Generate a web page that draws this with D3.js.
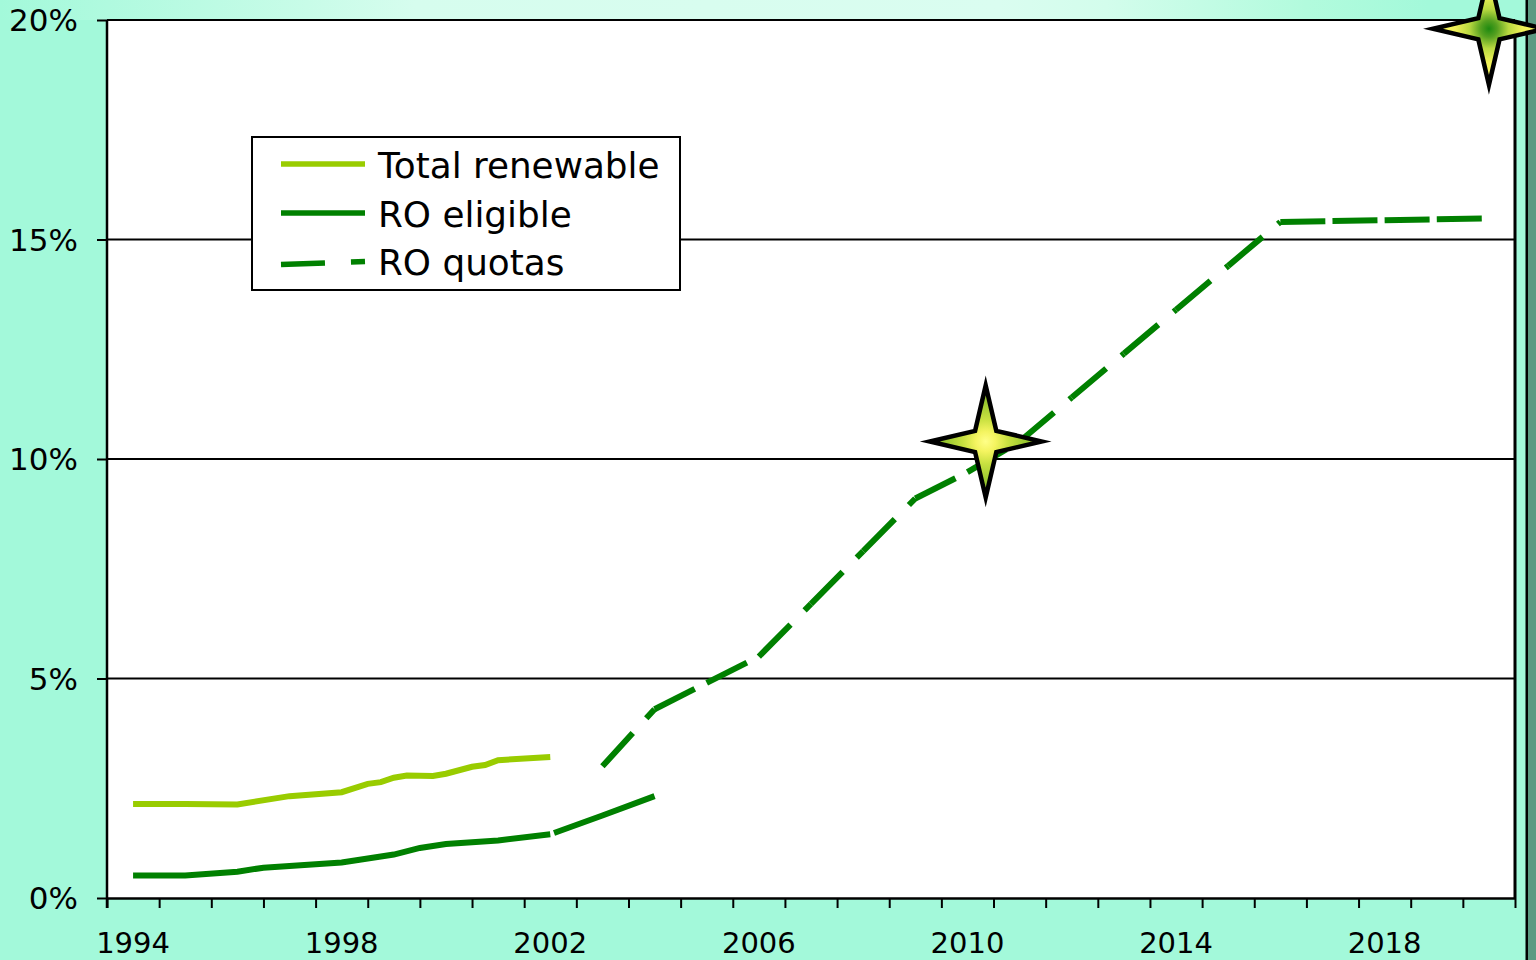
<!DOCTYPE html>
<html>
<head>
<meta charset="utf-8">
<script src="https://cdn.jsdelivr.net/npm/d3@7"></script>
<style>
  html, body { margin: 0; padding: 0; overflow: hidden; background: #a3f9da; }
  text { font-family: "DejaVu Sans", Verdana, sans-serif; fill: #000; }
</style>
</head>
<body>
<div id="chart"></div>
<script>
// values (percent of electricity supply)
const renewableYears = [1994, 1995, 1996, 1997, 1998, 1998.5, 1998.75, 1999, 1999.25, 1999.75, 2000, 2000.5, 2000.75, 2001, 2002];
const renewableValues = [2.14, 2.14, 2.13, 2.32, 2.41, 2.60, 2.64, 2.74, 2.79, 2.78, 2.83, 2.99, 3.03, 3.14, 3.21];

const eligibleYears = [1994, 1995, 1996, 1996.5, 1997, 1998, 1999, 1999.5, 2000, 2001, 2002, 2003, 2004];
const eligibleValues = [0.51, 0.51, 0.60, 0.69, 0.73, 0.81, 0.99, 1.14, 1.23, 1.31, 1.45, 1.88, 2.32];

const quotaYears = [2003, 2004, 2005, 2006, 2007, 2008, 2009, 2010, 2011, 2012, 2013, 2014, 2015, 2016, 2017, 2018, 2019, 2020];
const quotaValues = [3.0, 4.3, 4.9, 5.5, 6.7, 7.9, 9.1, 9.7, 10.4, 11.4, 12.4, 13.4, 14.4, 15.4, 15.42, 15.44, 15.46, 15.48];

const targetYears = [2010.35, 2020];
const targetValues = [10.4, 19.8];

const xLabelYears = [1994, 1998, 2002, 2006, 2010, 2014, 2018];
const yTickValues = [0, 5, 10, 15, 20];
const legendNames = ["Total renewable", "RO eligible", "RO quotas"];

const W = 1536, H = 960;
const lightGreen = "#99cc00", darkGreen = "#008000";

const svg = d3.select("#chart").append("svg")
  .attr("width", W).attr("height", H);

const defs = svg.append("defs");
const band = defs.append("linearGradient").attr("id", "topband");
[[0, "#a3f9da"], [0.2, "#c8fce8"], [0.27, "#d6fdee"], [0.65, "#dafdf0"], [0.72, "#d3fdec"], [0.85, "#b2fbdd"], [0.93, "#a3f9da"], [1, "#a3f9da"]]
  .forEach(s => band.append("stop").attr("offset", s[0]).attr("stop-color", s[1]));

const g1 = defs.append("radialGradient").attr("id", "star1");
[[0, "#ffff88"], [0.18, "#f4f460"], [0.4, "#c8e040"], [0.7, "#99c830"], [1, "#88bb22"]]
  .forEach(s => g1.append("stop").attr("offset", s[0]).attr("stop-color", s[1]));
const g2 = defs.append("radialGradient").attr("id", "star2");
[[0, "#1e8a10"], [0.15, "#55a020"], [0.35, "#b8d840"], [0.6, "#f0f058"], [1, "#ffff66"]]
  .forEach(s => g2.append("stop").attr("offset", s[0]).attr("stop-color", s[1]));

// background
svg.append("rect").attr("width", W).attr("height", H).attr("fill", "#a3f9da");
svg.append("rect").attr("width", W).attr("height", 20).attr("fill", "url(#topband)");
svg.append("rect").attr("x", 1528).attr("y", 0).attr("width", 8).attr("height", H).attr("fill", "#5b9a82");
svg.append("rect").attr("x", 1525.5).attr("y", 0).attr("width", 2.5).attr("height", H).attr("fill", "#000");

const x = d3.scaleLinear().domain([1993.5, 2020.5]).range([107, 1515]);
const y = d3.scaleLinear().domain([0, 20]).range([898, 20]);

// plot area
svg.append("rect")
  .attr("x", x(1993.5)).attr("y", y(20))
  .attr("width", x(2020.5) - x(1993.5)).attr("height", y(0) - y(20))
  .attr("fill", "#fff");

// gridlines + left ticks
const yAxis = svg.append("g")
  .attr("transform", `translate(${x(1993.5)},0)`)
  .call(d3.axisLeft(y).tickValues(yTickValues).tickSize(10).tickFormat(""));
yAxis.select(".domain").remove();
yAxis.selectAll("line").attr("stroke", "#000").attr("stroke-width", 2);

svg.append("g").selectAll("line")
  .data(yTickValues.filter(v => v > 0))
  .join("line")
  .attr("x1", x(1993.5)).attr("x2", x(2020.5))
  .attr("y1", d => y(d)).attr("y2", d => y(d))
  .attr("stroke", "#000").attr("stroke-width", 2);

svg.append("g").selectAll("text")
  .data(yTickValues)
  .join("text")
  .attr("x", 78).attr("y", d => y(d)).attr("dy", "0.36em")
  .attr("text-anchor", "end").attr("font-size", 31)
  .text(d => d + "%");

// right border of plot
svg.append("line")
  .attr("x1", x(2020.5)).attr("x2", x(2020.5))
  .attr("y1", y(20)).attr("y2", y(0))
  .attr("stroke", "#000").attr("stroke-width", 3);

// bottom axis: ticks between years
const boundaries = d3.range(1993.5, 2021, 1);
const xAxis = svg.append("g")
  .attr("transform", `translate(0,${y(0)})`)
  .call(d3.axisBottom(x).tickValues(boundaries).tickSize(10).tickSizeOuter(0).tickFormat(""));
xAxis.select(".domain").attr("stroke", "#000").attr("stroke-width", 2.5);
xAxis.selectAll("line").attr("stroke", "#000").attr("stroke-width", 2);

svg.append("g").selectAll("text")
  .data(xLabelYears)
  .join("text")
  .attr("x", d => x(d)).attr("y", 953)
  .attr("text-anchor", "middle").attr("font-size", 29)
  .text(d => d);

// left axis line
svg.append("line")
  .attr("x1", x(1993.5)).attr("x2", x(1993.5))
  .attr("y1", y(20)).attr("y2", y(0) + 10)
  .attr("stroke", "#000").attr("stroke-width", 2.5);

// series
const line = d3.line().x(d => x(d[0])).y(d => y(d[1]));

svg.append("path")
  .datum(d3.zip(renewableYears, renewableValues))
  .attr("d", line)
  .attr("fill", "none").attr("stroke", lightGreen).attr("stroke-width", 6);

// RO eligible: measured part, then a short break before the 2002-2004 part
const eligible = d3.zip(eligibleYears, eligibleValues);
const cut = eligibleYears.indexOf(2002);
svg.append("path")
  .datum(eligible.slice(0, cut + 1))
  .attr("d", line)
  .attr("fill", "none").attr("stroke", darkGreen).attr("stroke-width", 6);
svg.append("path")
  .datum(eligible.slice(cut))
  .attr("d", line)
  .attr("fill", "none").attr("stroke", darkGreen).attr("stroke-width", 6)
  .attr("stroke-dasharray", "0,4,1000");

// dash pattern restarts at each segment
svg.append("g").selectAll("path")
  .data(d3.pairs(d3.zip(quotaYears, quotaValues)))
  .join("path")
  .attr("d", d => line(d))
  .attr("fill", "none").attr("stroke", darkGreen).attr("stroke-width", 6)
  .attr("stroke-dasharray", "45,20");

// legend
const legend = svg.append("g");
legend.append("rect")
  .attr("x", 252).attr("y", 137).attr("width", 428).attr("height", 153)
  .attr("fill", "#fff").attr("stroke", "#000").attr("stroke-width", 2);
const legendRows = [
  {y: 164, color: lightGreen, dash: null, base: 178},
  {y: 213, color: darkGreen, dash: null, base: 227},
  {y: 263, color: darkGreen, dash: "44,26", base: 275}
];
legendRows.forEach((r, i) => {
  legend.append("line")
    .attr("x1", 281).attr("x2", 365).attr("y1", r.y + (r.dash ? 1.5 : 0)).attr("y2", r.y - (r.dash ? 1.5 : 0))
    .attr("stroke", r.color).attr("stroke-width", 5.5)
    .attr("stroke-dasharray", r.dash);
  legend.append("text")
    .attr("x", 378).attr("y", r.base)
    .attr("font-size", 35.8)
    .text(legendNames[i]);
});

// target stars
function starPath(R, r) {
  const pts = [];
  for (let k = 0; k < 8; k++) {
    const a = -Math.PI / 2 + k * Math.PI / 4;
    const rad = k % 2 === 0 ? R : r;
    pts.push([rad * Math.cos(a), rad * Math.sin(a)]);
  }
  return "M" + pts.map(p => p.join(",")).join("L") + "Z";
}
svg.append("g").selectAll("path")
  .data(d3.zip(targetYears, targetValues))
  .join("path")
  .attr("transform", d => `translate(${x(d[0])},${y(d[1])})`)
  .attr("d", starPath(56, 15))
  .attr("fill", (d, i) => i === 0 ? "url(#star1)" : "url(#star2)")
  .attr("stroke", "#000").attr("stroke-width", 4.5)
  .attr("stroke-linejoin", "miter").attr("stroke-miterlimit", 20);
</script>
</body>
</html>
